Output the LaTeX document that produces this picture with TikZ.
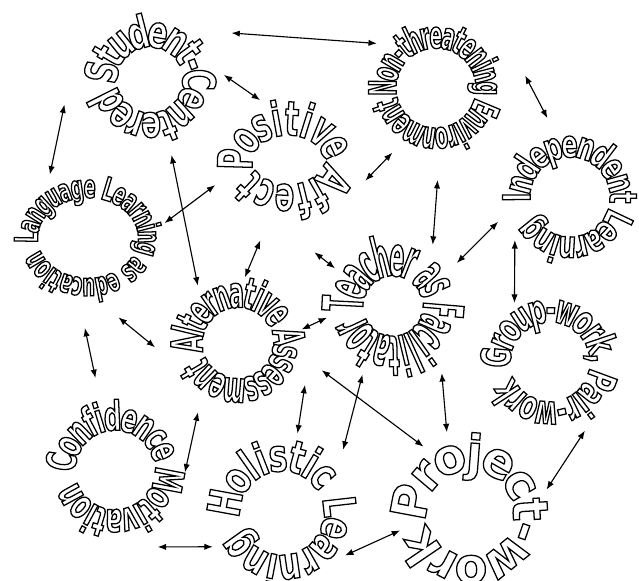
\documentclass[tikz,border=0pt]{standalone}
\usepackage{fontspec}
\usetikzlibrary{decorations.text,arrows.meta}
\newfontfamily\ringfont{DejaVu Sans}
% outlined, condensed letters for the word rings
\newcommand{\ringchar}[2]{\ringfont\bfseries\addfontfeature{FakeStretch=#2}\fontsize{#1}{#1}\selectfont\special{pdf:literal direct 2 Tr 0.9 w 0 0 0 RG 1 1 1 rg}}
\begin{document}
\begin{tikzpicture}[x=0.025cm, y=0.025cm,
  link/.style={{Latex[length=6pt,width=4.5pt]}-{Latex[length=6pt,width=4.5pt]}, line width=0.8pt}]
\useasboundingbox (0,0) rectangle (639,580);
% centres of the rings
\coordinate (student) at (150,500);
\coordinate (nonthreat) at (436,492);
\coordinate (positive) at (288,420);
\coordinate (independent) at (570,383);
\coordinate (language) at (88,342);
\coordinate (teacher) at (393,274);
\coordinate (alternative) at (238,237);
\coordinate (group) at (550,218);
\coordinate (confidence) at (115,110);
\coordinate (holistic) at (282,67);
\coordinate (project) at (470,67);
% words set clockwise round each centre
\foreach \rname/\rx/\ry/\from/\sweep/\fs/\st/\words in {
  student/52/52/182/347/32/0.66/{Student-Centered},
  nonthreat/56/56/188/354/27/0.51/{Non-threatening Environment},
  positive/56/45/192/340/34/0.6/{Positive Affect},
  independent/56/56/185/335/27/0.65/{Independent Learning},
  language/64/54/185/345/23/0.55/{Language Learning as education},
  teacher/54/54/185/345/40/0.39/{Teacher as Facilitator},
  alternative/54/54/190/345/31/0.5/{Alternative Assessment},
  group/57/57/185/340/29/0.6/{Group-work, Pair-work},
  confidence/57/57/180/340/29/0.6/{Confidence Motivation},
  holistic/61/61/182/337/32/0.7/{Holistic Learning},
  project/64/64/185/345/35/0.97/{Project-work}}
{
  \begin{scope}
  \path[decorate, decoration={text along path, text align=fit to path,
      raise=-0.015cm*\fs, text/.expanded={|\noexpand\ringchar{\fs}{\st}|\words}}]
    (\rname) ++(\from:\rx\space and \ry) arc[start angle=\from, delta angle=-\sweep, x radius=\rx, y radius=\ry];
  \end{scope}
}
% links
\draw[link] ([shift={(30:94)}]student) -- ([shift={(143:74)}]nonthreat);
\draw[link] ([shift={(4:74)}]student) -- ([shift={(115:66)}]positive);
\draw[link] ([shift={(196:89)}]student) -- ([shift={(121:74)}]language);
\draw[link] ([shift={(-74:78)}]student) -- ([shift={(125:70)}]alternative);
\draw[link] ([shift={(11:78)}]language) -- ([shift={(199:77)}]positive);
\draw[link] ([shift={(236:78)}]nonthreat) -- ([shift={(-15:80)}]positive);
\draw[link] ([shift={(8:90)}]nonthreat) -- ([shift={(106:82)}]independent);
\draw[link] ([shift={(-89:92)}]nonthreat) -- ([shift={(57:73)}]teacher);
\draw[link] ([shift={(251:85)}]positive) -- ([shift={(84:66)}]alternative);
\draw[link] ([shift={(-74:96)}]positive) -- ([shift={(147:69)}]teacher);
\draw[link] ([shift={(199:76)}]independent) -- ([shift={(34:77)}]teacher);
\draw[link] ([shift={(218:70)}]independent) -- ([shift={(121:69)}]group);
\draw[link] ([shift={(-69:85)}]language) -- ([shift={(183:83)}]alternative);
\draw[link] ([shift={(268:90)}]language) -- ([shift={(102:94)}]confidence);
\draw[link] ([shift={(12:65)}]alternative) -- ([shift={(190:67)}]teacher);
\draw[link] ([shift={(240:80)}]alternative) -- ([shift={(-2:70)}]confidence);
\draw[link] ([shift={(-32:79)}]alternative) -- ([shift={(79:81)}]holistic);
\draw[link] ([shift={(246:75)}]teacher) -- ([shift={(46:88)}]holistic);
\draw[link] ([shift={(-54:83)}]teacher) -- ([shift={(106:84)}]project);
\draw[link] ([shift={(-18:88)}]alternative) -- ([shift={(125:81)}]project);
\draw[link] ([shift={(-63:77)}]group) -- ([shift={(17:80)}]project);
\draw[link] ([shift={(-61:88)}]confidence) -- ([shift={(206:77)}]holistic);
\draw[link] ([shift={(-34:76)}]holistic) -- ([shift={(194:72)}]project);
\end{tikzpicture}
\end{document}
